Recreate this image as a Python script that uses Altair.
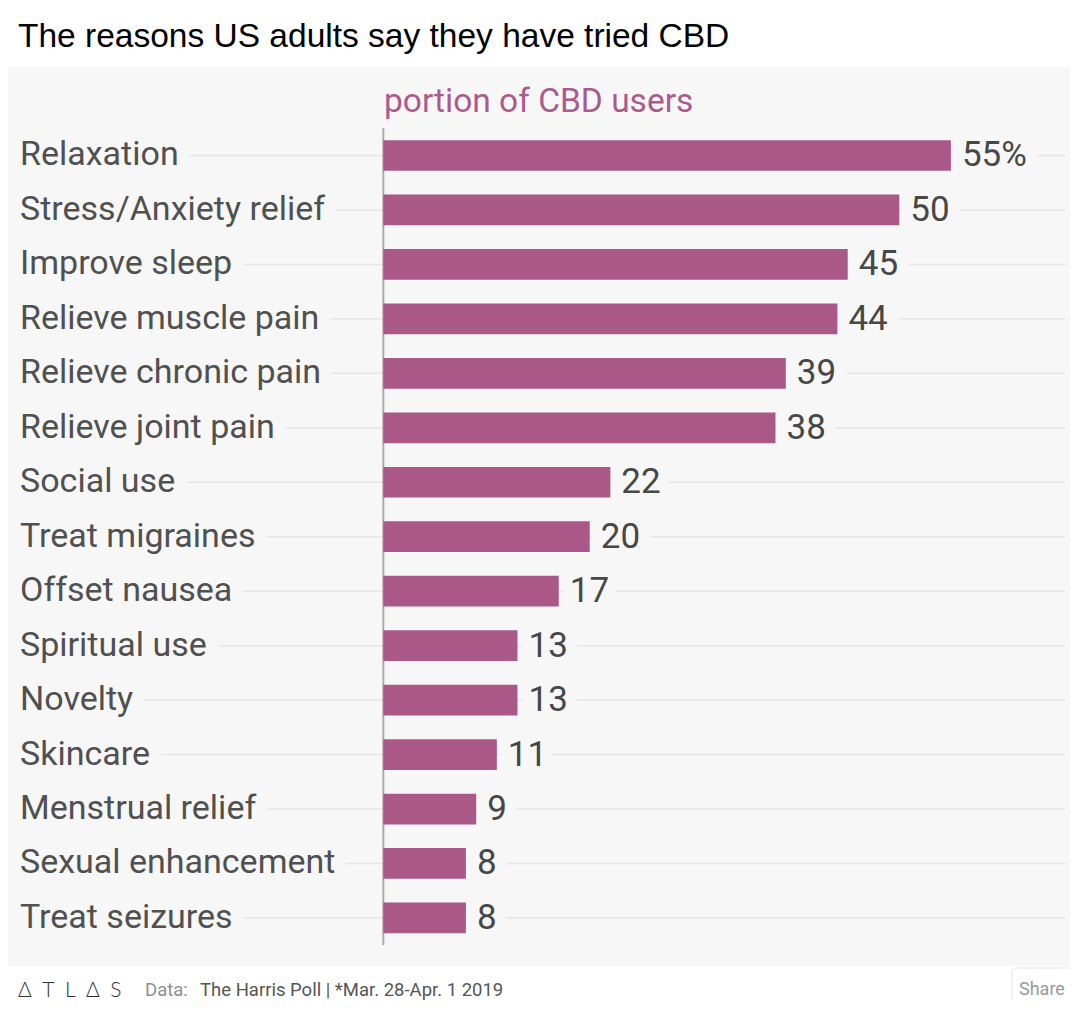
import altair as alt
import pandas as pd

# ---- data ----
reasons = [
    "Relaxation", "Stress/Anxiety relief", "Improve sleep", "Relieve muscle pain",
    "Relieve chronic pain", "Relieve joint pain", "Social use", "Treat migraines",
    "Offset nausea", "Spiritual use", "Novelty", "Skincare", "Menstrual relief",
    "Sexual enhancement", "Treat seizures",
]
values = [55, 50, 45, 44, 39, 38, 22, 20, 17, 13, 13, 11, 9, 8, 8]

title_text = "The reasons US adults say they have tried CBD"
subtitle_text = "portion of CBD users"
source_label = "Data:"
source_text = "The Harris Poll | *Mar. 28-Apr. 1 2019"
brand_text = "Δ\u2002T\u2002L\u2002Δ\u2002S"
share_text = "Share"

# ---- styling ----
BG = "#f7f7f7"
BAR = "#a95888"
FONT = "Roboto"

df = pd.DataFrame({
    "reason": reasons,
    "value": values,
    "label": [f"{v}%" if i == 0 else str(v) for i, v in enumerate(values)],
})

W, H = 1062, 899

y_enc = alt.Y(
    "reason:N", sort=None, axis=None,
    scale=alt.Scale(paddingInner=0.436, paddingOuter=0.9716, align=0.691, round=False),
)
x_scale = alt.Scale(domain=[-36.37, 66.54], nice=False, zero=False)

base = alt.Chart(df)

grid = base.mark_rule(color="#e6e6e6", strokeWidth=1.5).encode(
    y=y_enc, x=alt.value(12), x2=alt.value(1057)
)

label_halo = base.mark_text(
    align="left", baseline="middle", font=FONT, fontSize=34,
    fill=BG, stroke=BG, strokeWidth=26, strokeJoin="round",
).encode(y=y_enc, x=alt.value(12), text="reason:N")

value_halo = base.mark_text(
    align="left", baseline="middle", font=FONT, fontSize=35, dx=11,
    fill=BG, stroke=BG, strokeWidth=24, strokeJoin="round",
).encode(y=y_enc, x=alt.X("value:Q", scale=x_scale, axis=None), text="label:N")

bars = base.mark_bar(color=BAR).encode(
    y=y_enc,
    x=alt.X("value:Q", scale=x_scale, axis=None),
    x2=alt.datum(0),
)

labels = base.mark_text(
    align="left", baseline="middle", font=FONT, fontSize=34, color="#505050",
).encode(y=y_enc, x=alt.value(12), text="reason:N")

value_labels = base.mark_text(
    align="left", baseline="middle", font=FONT, fontSize=35, dx=11, color="#474747",
).encode(y=y_enc, x=alt.X("value:Q", scale=x_scale, axis=None), text="label:N")

zero_rule = alt.Chart(pd.DataFrame({"z": [0]})).mark_rule(
    color="#ababab", strokeWidth=2
).encode(x=alt.X("z:Q", scale=x_scale, axis=None), y=alt.value(61), y2=alt.value(878))

def one_text(txt, x, y, size, color, weight="normal", font=FONT):
    return alt.Chart(pd.DataFrame({"t": [txt]})).mark_text(
        align="left", baseline="alphabetic", font=font, fontSize=size,
        color=color, fontWeight=weight,
    ).encode(text="t:N", x=alt.value(x), y=alt.value(y))

title = one_text(title_text, 10, -20, 33.5, "#000000", font="Liberation Sans")
subtitle = one_text(subtitle_text, 376, 45, 33.5, "#ac5a8c")
brand = one_text(brand_text, 10, 930, 21, "#333333", weight=300, font="Lato")
src_lbl = one_text(source_label, 137, 929, 18.5, "#8f8f8f")
src_txt = one_text(source_text, 192, 929, 18.5, "#555555")

share_box = alt.Chart(pd.DataFrame({"s": [share_text]})).mark_rect(
    fill="#ffffff", stroke="#e4e4e4", strokeWidth=1, cornerRadius=4
).encode(x=alt.value(1004), x2=alt.value(1075), y=alt.value(901), y2=alt.value(941))
share = one_text(share_text, 1011, 928, 18, "#9a9a9a")

chart = alt.layer(
    grid, label_halo, value_halo, zero_rule, bars, labels, value_labels,
    title, subtitle, brand, src_lbl, src_txt, share_box, share,
).properties(
    width=W, height=H,
    autosize=alt.AutoSizeParams(type="none"),
    padding={"left": 0, "top": 59, "right": 0, "bottom": 34},
    background="#ffffff",
).configure_view(fill=BG, strokeWidth=0)

chart.save("out.html", embed_options={"renderer": "svg", "actions": False})
